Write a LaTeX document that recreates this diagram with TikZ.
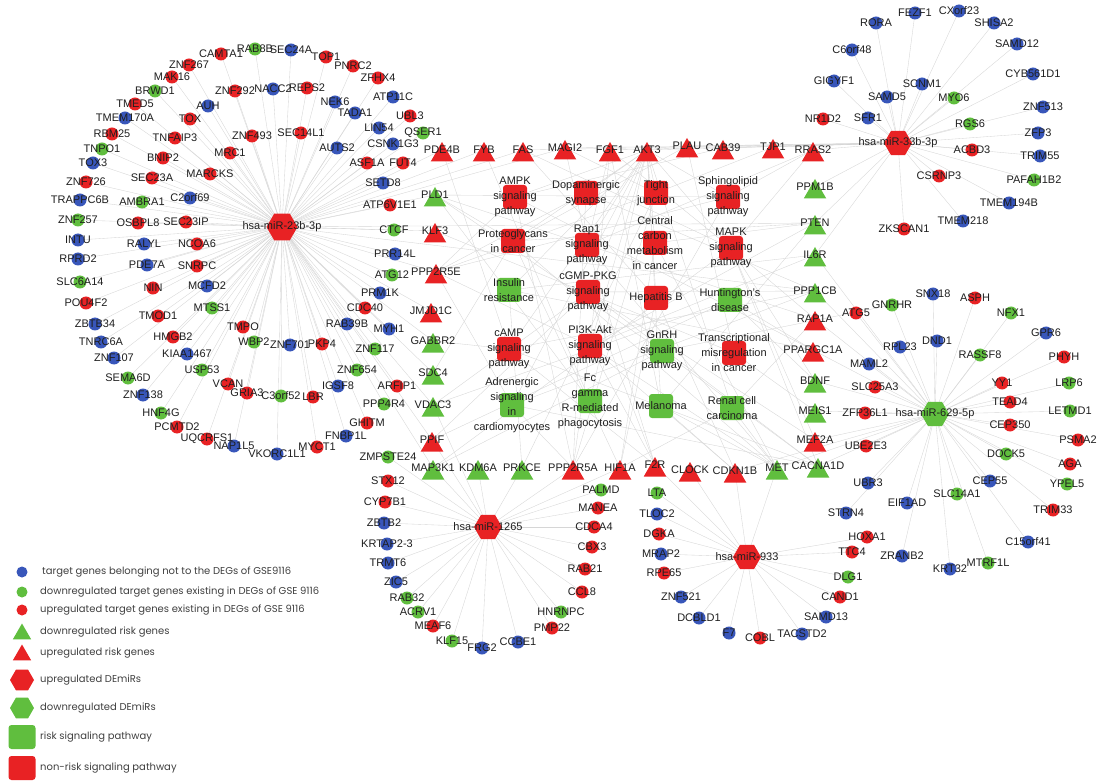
\documentclass[tikz,border=0pt]{standalone}
\usepackage{fontspec}
\setmainfont{Liberation Sans}
\newfontfamily\legfont{Poppins}
\usetikzlibrary{shapes.geometric}
\definecolor{cr}{RGB}{232,34,36}
\definecolor{cg}{RGB}{96,190,62}
\definecolor{cb}{RGB}{56,86,186}
\definecolor{ce}{RGB}{214,214,214}
\tikzset{
 gc/.style={circle,draw=none,minimum size=13pt,inner sep=0pt},
 gt/.style={regular polygon,regular polygon sides=3,minimum size=26pt,inner sep=0pt,draw=none},
 gh/.style={regular polygon,regular polygon sides=6,minimum size=28pt,inner sep=0pt,draw=none},
 gs/.style={rectangle,rounded corners=3pt,minimum size=24pt,inner sep=0pt,draw=none},
 lbl/.style={inner sep=0pt,text=black!88,font=\fontsize{11}{15}\selectfont,align=center},
 edge/.style={draw=ce,line width=0.35pt},
 legtxt/.style={anchor=west,inner sep=0pt,font=\legfont\fontsize{10}{12}\selectfont,text=black!75}
}
\def\circs{%
CAMTA1/221/54/cr/mirA,
RAB8B/255/49/cg/mirA,
SEC24A/291/50/cb/mirA,
TOP1/326/57/cr/mirA,
PNRC2/353/66/cr/mirA,
ZFHX4/378/78/cr/mirA,
ZNF267/189/65/cr/mirA,
MAK16/172/77/cr/mirA,
BRWD1/155/91/cg/mirA,
ZNF292/235/91/cr/mirA,
NACC2/273/89/cb/mirA,
REPS2/307/88/cr/mirA,
TMED5/135/104/cr/mirA,
AUH/208/106/cb/mirA,
NEK6/335/102/cb/mirA,
ATP11C/393/97/cb/mirA,
TMEM170A/125/118/cb/mirA,
TOX/190/119/cr/mirA,
TADA1/355/113/cb/mirA,
UBL3/410/116/cr/mirA,
RBM25/112/134/cr/mirA,
TNFAIP3/175/138/cr/mirA,
ZNF493/252/136/cr/mirA,
SEC14L1/301/133/cr/mirA,
LIN54/379/128/cb/mirA,
QSER1/423/133/cg/mirA,
TNPO1/102/149/cg/mirA,
MRC1/230/153/cr/mirA,
AUTS2/337/148/cb/mirA,
CSNK1G3/393/144/cb/mirA,
TOX3/93/163/cb/mirA,
BNIP2/163/158/cr/mirA,
ASF1A/367/163/cr/mirA,
FUT4/403/163/cr/mirA,
MARCKS/210/174/cr/mirA,
ZNF726/86/182/cr/mirA,
SEC23A/152/178/cr/mirA,
SETD8/383/183/cb/mirA,
TRAPPC6B/80/200/cb/mirA,
AMBRA1/142/202/cg/mirA,
C2orf69/190/198/cb/mirA,
ATP6V1E1/390/205/cr/mirA,
ZNF257/78/220/cg/mirA,
OSBPL8/138/223/cr/mirA,
SEC23IP/186/222/cr/mirA,
CTCF/394/230/cg/mirA,
INTU/78/240/cb/mirA,
RALYL/144/244/cb/mirA,
NCOA6/197/244/cr/mirA,
PRR14L/395/254/cb/mirA,
RPRD2/78/259/cb/mirA,
PDE7A/147/265/cb/mirA,
SNRPC/197/266/cr/mirA,
ATG12/392/275/cg/mirA,
SLC6A14/80/282/cg/mirA,
NIN/153/288/cr/mirA,
MCFD2/207/286/cb/mirA,
PRM1K/380/293/cb/mirA,
POU4F2/86/303/cr/mirA,
MTSS1/212/308/cg/mirA,
TMOD1/158/316/cr/mirA,
CDC40/365/308/cr/mirA,
ZBTB34/95/324/cb/mirA,
TMPO/243/327/cr/mirA,
RAB39B/347/324/cb/mirA,
MYH1/389/329/cb/mirA,
HMGB2/173/337/cr/mirA,
WBP2/254/342/cg/mirA,
TNRC6A/101/342/cb/mirA,
ZNF701/290/345/cb/mirA,
PKP4/322/344/cr/mirA,
ZNF117/375/349/cg/mirA,
ZNF107/114/358/cb/mirA,
KIAA1467/187/354/cb/mirA,
ZNF654/357/370/cg/mirA,
USP53/202/370/cg/mirA,
SEMA6D/128/378/cg/mirA,
IGSF8/338/386/cb/mirA,
ARFIP1/397/386/cr/mirA,
VCAN/228/384/cr/mirA,
GRIA3/247/393/cr/mirA,
C3orf52/281/396/cg/mirA,
LBR/313/397/cr/mirA,
ZNF138/143/395/cb/mirA,
PPP4R4/384/404/cg/mirA,
HNF4G/161/413/cg/mirA,
GHITM/367/423/cr/mirA,
PCMTD2/177/427/cr/mirA,
FNBP1L/346/436/cb/mirA,
UQCRFS1/207/439/cr/mirA,
MYCT1/317/447/cr/mirA,
NAP1L5/234/446/cb/mirA,
VKORC1L1/277/454/cb/mirA,
RORA/876/23/cb/mirB,
FEZF1/915/13/cb/mirB,
CXorf23/959/11/cb/mirB,
SHISA2/994/23/cb/mirB,
SAMD12/1017/44/cb/mirB,
C6orf48/852/50/cb/mirB,
CYB561D1/1033/74/cb/mirB,
GIGYF1/834/81/cb/mirB,
SCNM1/922/84/cb/mirB,
MYO6/954/98/cg/mirB,
SAMD5/887/97/cb/mirB,
ZNF513/1043/107/cb/mirB,
NR1D2/823/119/cr/mirB,
SFR1/868/118/cb/mirB,
RGS6/970/124/cg/mirB,
ZFP3/1038/133/cb/mirB,
ACBD3/972/150/cr/mirB,
TRIM55/1040/156/cb/mirB,
CSRNP3/939/176/cr/mirB,
PAFAH1B2/1034/180/cg/mirB,
TMEM194B/1009/203/cb/mirB,
TMEM218/963/221/cb/mirB,
ZKSCAN1/904/229/cr/mirB,
SNX18/933/294/cb/mirC,
ASPH/975/298/cr/mirC,
GNRHR/892/305/cg/mirC,
ATG5/856/313/cr/mirC,
NFX1/1011/313/cg/mirC,
GPR6/1046/333/cb/mirC,
RPL23/900/347/cb/mirC,
DND1/937/341/cb/mirC,
RASSF8/980/355/cg/mirC,
PHYH/1064/357/cr/mirC,
MAML2/869/364/cb/mirC,
YY1/1002/383/cr/mirC,
LRP6/1069/383/cg/mirC,
SLC25A3/875/387/cr/mirC,
TEAD4/1010/402/cr/mirC,
LETMD1/1070/411/cg/mirC,
ZFP36L1/865/413/cr/mirC,
CEP350/1010/425/cr/mirC,
PSMA2/1078/440/cr/mirC,
UBE2E3/866/446/cr/mirC,
DOCK5/1006/454/cg/mirC,
AGA/1070/464/cr/mirC,
UBR3/868/483/cb/mirC,
CEP55/990/481/cb/mirC,
YPEL5/1067/484/cg/mirC,
SLC14A1/957/494/cg/mirC,
EIF1AD/907/503/cb/mirC,
TRIM33/1053/510/cr/mirC,
STRN4/846/513/cb/mirC,
C15orf41/1028/542/cb/mirC,
ZRANB2/902/556/cb/mirC,
KRT32/950/569/cb/mirC,
MTRF1L/988/563/cg/mirC,
ZMPSTE24/388/457/cg/mirD,
STX12/388/481/cr/mirD,
CYP7B1/385/502/cr/mirD,
ZBTB2/384/523/cb/mirD,
KRTAP2-3/387/544/cb/mirD,
TRMT6/388/563/cb/mirD,
ZIC5/396/582/cb/mirD,
RAB32/407/598/cg/mirD,
ACRV1/418/612/cg/mirD,
MEAF6/433/626/cr/mirD,
KLF15/452/641/cg/mirD,
FRG2/482/648/cb/mirD,
CCBE1/518/642/cb/mirD,
PMP22/552/628/cr/mirD,
HNRNPC/561/612/cg/mirD,
CCL8/582/592/cr/mirD,
RAB21/585/569/cr/mirD,
CBX3/592/547/cr/mirD,
CDCA4/594/527/cr/mirD,
MANEA/598/508/cr/mirD,
PALMD/601/490/cg/mirD,
LTA/657/493/cg/mirE,
TLOC2/657/514/cb/mirE,
DGKA/659/534/cr/mirE,
MRAP2/661/554/cb/mirE,
RPE65/664/573/cr/mirE,
ZNF521/681/597/cb/mirE,
DCBLD1/699/618/cb/mirE,
F7/729/633/cb/mirE,
COBL/760/638/cr/mirE,
TACSTD2/802/634/cb/mirE,
SAMD13/826/617/cb/mirE,
CAND1/840/597/cr/mirE,
DLG1/848/577/cg/mirE,
TTC4/852/552/cr/mirE,
HOXA1/867/537/cr/mirE%
}
\def\tris{%
PDE4B/442/150/cr/mirA,
FYB/484/150/cr/mirA,
FAS/523/150/cr/mirA,
MAGI2/565/148/cr/mirA,
FGF1/610/150/cr/mirB,
AKT3/647/150/cr/mirB,
PLAU/687/146/cr/mirB,
CAB39/723/148/cr/mirB,
TJP1/773/147/cr/mirB,
RRAS2/813/150/cr/mirB,
PLD1/435/195/cg/mirA,
KLF3/435/231/cr/mirA,
PPP2R5E/436/272/cr/mirA,
JMJD1C/431/311/cr/mirA,
GABBR2/433/341/cg/mirA,
SDC4/433/373/cg/mirA,
VDAC3/433/405/cg/mirA,
PPIF/432/440/cr/mirA,
MAP3K1/433/468/cg/mirD,
KDM6A/478/468/cg/mirD,
PRKCE/522/468/cg/mirD,
PPP2R5A/573/468/cr/mirD,
HIF1A/620/468/cr/mirD,
F2R/655/465/cr/mirE,
CLOCK/690/470/cr/mirE,
CDKN1B/735/471/cr/mirE,
MET/777/468/cg/mirC,
CACNA1D/818/466/cg/mirC,
PPM1B/815/187/cg/mirB,
PTEN/815/223/cg/mirB,
IL6R/815/255/cg/mirB,
PPP1CB/815/291/cg/mirC,
RAP1A/815/319/cr/mirC,
PPARGC1A/813/350/cr/mirC,
BDNF/815/381/cg/mirC,
MEIS1/815/411/cg/mirC,
MEF2A/815/440/cr/mirC%
}
\def\paths{%
p1/515/197/cr/{AMPK\\signaling\\pathway},
p2/586/193/cr/{Dopaminergic\\synapse},
p3/656/193/cr/{Tight\\junction},
p4/728/197/cr/{Sphingolipid\\signaling\\pathway},
p5/513/241/cr/{Proteoglycans\\in cancer},
p6/587/245/cr/{Rap1\\signaling\\pathway},
p7/655/243/cr/{Central\\carbon\\metabolism\\in cancer},
p8/731/248/cr/{MAPK\\signaling\\pathway},
p9/509/290/cg/{Insulin\\resistance},
p10/588/292/cr/{cGMP-PKG\\signaling\\pathway},
p11/656/298/cr/{Hepatitis B},
p12/730/300/cg/{Huntington's\\disease},
p13/509/349/cr/{cAMP\\signaling\\pathway},
p14/590/346/cr/{PI3K-Akt\\signaling\\pathway},
p15/662/351/cg/{GnRH\\signaling\\pathway},
p16/734/353/cr/{Transcriptional\\misregulation\\in cancer},
p17/512/405/cg/{Adrenergic\\signaling\\in\\cardiomyocytes},
p18/590/401/cg/{Fc\\gamma\\R-mediated\\phagocytosis},
p19/661/406/cg/{Melanoma},
p20/732/408/cg/{Renal cell\\carcinoma}%
}
\def\gp{%
PDE4B/{p13},
FYB/{p18},
FAS/{p8,p11},
MAGI2/{p3,p6},
FGF1/{p8,p6,p14,p19},
AKT3/{p1,p2,p3,p4,p5,p6,p7,p8,p9,p10,p11,p13,p14,p17,p18,p19,p20},
PLAU/{p5,p16},
CAB39/{p1},
TJP1/{p3},
RRAS2/{p6,p8,p4},
PLD1/{p4,p6,p15,p18,p5},
KLF3/{p16},
PPP2R5E/{p1,p2,p3,p4,p14,p17},
GABBR2/{p13},
SDC4/{p5},
VDAC3/{p10,p12},
PPIF/{p10,p12},
MAP3K1/{p8,p15},
PRKCE/{p9,p3},
PPP2R5A/{p1,p2,p3,p4,p14,p17},
HIF1A/{p5,p7,p20,p11},
F2R/{p6,p13,p14,p10},
CDKN1B/{p14,p11,p19},
MET/{p5,p6,p7,p14,p19,p20},
CACNA1D/{p8,p10,p13,p17,p15},
PTEN/{p14,p7,p19,p5},
IL6R/{p14,p9},
PPP1CB/{p2,p10,p13,p17},
RAP1A/{p6,p8,p20},
PPARGC1A/{p1,p9,p12},
BDNF/{p8,p12},
MEIS1/{p16},
MEF2A/{p10,p8},
GNRHR/{p15}%
}
\begin{document}
\begin{tikzpicture}[x=1pt,y=-1pt]
\useasboundingbox (0,0) rectangle (1097,783);
\fill[white] (0,0) rectangle (1097,783);
% hubs
\coordinate (mirA) at (282,227);
\coordinate (mirB) at (898,143);
\coordinate (mirC) at (935,414);
\coordinate (mirD) at (488,527);
\coordinate (mirE) at (747,557);
% coordinates and hub edges
\foreach \n/\x/\y/\cl/\h in \circs {\coordinate (\n) at (\x,\y); \draw[edge] (\h) -- (\n);}
\foreach \n/\x/\y/\cl/\h in \tris {\coordinate (\n) at (\x,\y); \draw[edge] (\h) -- (\n);}
\foreach \n/\x/\y/\cl/\tx in \paths {\coordinate (\n) at (\x,\y);}
\foreach \g/\ps in \gp {\foreach \p in \ps {\draw[edge] (\g) -- (\p);}}
\foreach \a/\b in {mirA/PTEN,mirA/PPP1CB,mirA/MAP3K1,mirB/MAGI2,mirC/IL6R,mirD/PPIF,mirE/MET,mirB/FAS,mirC/CDKN1B,mirD/VDAC3}
  {\draw[edge] (\a) -- (\b);}
% shapes
\foreach \n/\x/\y/\cl/\h in \circs {\node[gc,fill=\cl] (s\n) at (\n) {};}
\foreach \n/\x/\y/\cl/\h in \tris {\node[gt,fill=\cl,yshift=-5pt] (s\n) at (\n) {};}
\foreach \n/\x/\y/\cl/\tx in \paths {\node[gs,fill=\cl] (s\n) at (\n) {};}
\node[gh,fill=cr,minimum size=31pt] (smirA) at (mirA) {};
\node[gh,fill=cr] (smirB) at (mirB) {};
\node[gh,fill=cg] (smirC) at (mirC) {};
\node[gh,fill=cr] (smirD) at (mirD) {};
\node[gh,fill=cr] (smirE) at (mirE) {};
% labels
\foreach \n/\x/\y/\cl/\h in \circs {\node[lbl] (l\n) at (\n) {\n};}
\foreach \n/\x/\y/\cl/\h in \tris {\node[lbl] (l\n) at (\n) {\n};}
\foreach \n/\x/\y/\cl/\tx in \paths {\node[lbl] (l\n) at (\n) {\tx};}
\node[lbl] (lmirA) at (mirA) {hsa-miR-23b-3p};
\node[lbl] (lmirB) at (mirB) {hsa-miR-33b-3p};
\node[lbl] (lmirC) at (mirC) {hsa-miR-629-5p};
\node[lbl] (lmirD) at (mirD) {hsa-miR-1265};
\node[lbl] (lmirE) at (mirE) {hsa-miR-933};
% legend
\node[gc,fill=cb,minimum size=11pt] (k1) at (22,572) {};
\node[legtxt] (t1) at (42,572) {target genes belonging not to the DEGs of GSE9116};
\node[gc,fill=cg,minimum size=11pt] (k2) at (22,592) {};
\node[legtxt] (t2) at (40,592) {downregulated target genes existing in DEGs of GSE 9116};
\node[gc,fill=cr,minimum size=11pt] (k3) at (22,610) {};
\node[legtxt] (t3) at (40,610) {upregulated target genes existing in DEGs of GSE 9116};
\node[gt,fill=cg,minimum size=21pt,yshift=-2pt] (k4) at (22,632) {};
\node[legtxt] (t4) at (40,632) {downregulated risk genes};
\node[gt,fill=cr,minimum size=21pt,yshift=-2pt] (k5) at (22,653) {};
\node[legtxt] (t5) at (40,653) {upregulated risk genes};
\node[gh,fill=cr,minimum size=24pt] (k6) at (22,680) {};
\node[legtxt] (t6) at (40,680) {upregulated DEmiRs};
\node[gh,fill=cg,minimum size=24pt] (k7) at (22,708) {};
\node[legtxt] (t7) at (40,708) {downregulated DEmiRs};
\node[gs,fill=cg,minimum width=27pt,minimum height=24pt] (k8) at (22,737) {};
\node[legtxt] (t8) at (40,737) {risk signaling pathway};
\node[gs,fill=cr,minimum width=27pt,minimum height=24pt] (k9) at (22,768) {};
\node[legtxt] (t9) at (40,768) {non-risk signaling pathway};
\end{tikzpicture}
\end{document}
